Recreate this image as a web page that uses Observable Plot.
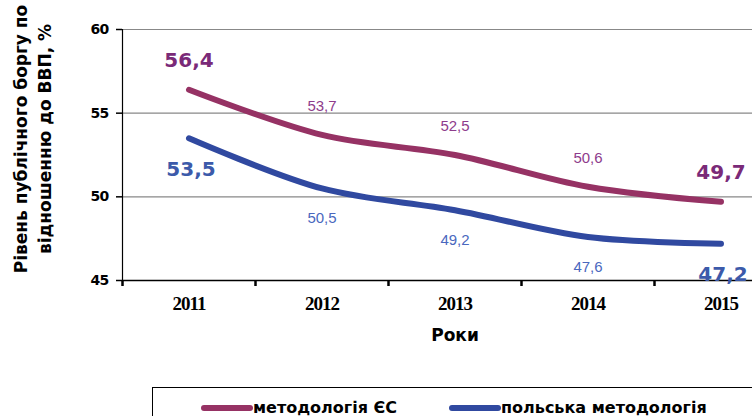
<!DOCTYPE html>
<html>
<head>
<meta charset="utf-8">
<script src="https://cdn.jsdelivr.net/npm/d3@7"></script>
<script src="https://cdn.jsdelivr.net/npm/@observablehq/plot@0.6"></script>
<style>
  html, body { margin: 0; padding: 0; background: #fff; overflow: hidden; }
  #wrap { position: relative; width: 752px; height: 416px; overflow: hidden; }
  #legend {
    position: absolute; left: 152px; top: 387px; width: 640px; height: 40px;
    border: 1.5px solid #000; border-right: none; box-sizing: border-box;
    font-family: "DejaVu Sans", sans-serif; font-weight: bold; font-size: 16px; color: #000;
  }
  .item { position: absolute; top: 10px; display: flex; align-items: center; white-space: nowrap; }
  .sw { display: inline-block; width: 52px; height: 6px; border-radius: 3px; }
  g[aria-label="y-axis tick label"] text { font-family: "DejaVu Sans", sans-serif; font-weight: bold; font-size: 14px; letter-spacing: -0.8px; }
  g[aria-label="x-axis tick label"] text { font-family: "Liberation Serif", serif; font-weight: bold; font-size: 19px; letter-spacing: -1px; }
</style>
</head>
<body>
<div id="wrap"></div>
<script>
const years = [2011, 2012, 2013, 2014, 2015];
const euValues = [56.4, 53.7, 52.5, 50.6, 49.7];
const plValues = [53.5, 50.5, 49.2, 47.6, 47.2];
const yTicks = [45, 50, 55, 60];
const gridValues = [50, 55, 60];
const seriesNames = ["методологія ЄС", "польська методологія"];
const yTitle = ["Рівень публічного боргу по", "відношенню до ВВП, %"];
const xTitle = "Роки";

const purple = "#963264", blue = "#3049A0";
const purpleBold = "#7A2A78", blueBold = "#3C5AAA";
const purpleText = "#8E3C8C", blueText = "#4A68BE";

const euData = years.map((year, i) => ({year, value: euValues[i], series: seriesNames[0]}));
const plData = years.map((year, i) => ({year, value: plValues[i], series: seriesNames[1]}));
const fmt = v => v.toFixed(1).replace(".", ",");
const isEnd = (d, i) => i === 0 || i === years.length - 1;
const isMid = (d, i) => !(i === 0 || i === years.length - 1);
const boundaries = years.map(y => y - 0.5);

const sans = "DejaVu Sans, sans-serif";

const chart = Plot.plot({
  width: 752,
  height: 378,
  marginTop: 29,
  marginBottom: 98,
  marginLeft: 122,
  marginRight: -35,
  style: {background: "#fff", overflow: "hidden", fontFamily: sans},
  x: {domain: [years[0] - 0.5, years[years.length - 1] + 0.5]},
  y: {domain: [45, 60]},
  marks: [
    Plot.ruleY(gridValues, {stroke: "#888", strokeWidth: 1.2}),
    Plot.axisX({ticks: boundaries, tickSize: 6, tickFormat: () => "", label: null, strokeWidth: 2.5, stroke: "#000"}),
    Plot.axisX({ticks: years, tickSize: 0, tickPadding: 16, tickFormat: d => String(d), label: null}),
    Plot.axisY({ticks: yTicks, tickSize: 6, tickPadding: 8, label: null, strokeWidth: 1.5}),
    Plot.ruleY([45], {stroke: "#000", strokeWidth: 1.6}),
    Plot.ruleX([years[0] - 0.5], {y1: 45, y2: 60, stroke: "#000", strokeWidth: 1.2}),
    Plot.line(euData, {x: "year", y: "value", stroke: purple, strokeWidth: 6, curve: "catmull-rom", strokeLinecap: "round"}),
    Plot.line(plData, {x: "year", y: "value", stroke: blue, strokeWidth: 6, curve: "catmull-rom", strokeLinecap: "round"}),
    Plot.text(euData, {filter: isEnd, x: "year", y: "value", text: d => fmt(d.value), dy: -29, fill: purpleBold, fontSize: 20, fontWeight: "bold", fontFamily: sans}),
    Plot.text(plData, {filter: isEnd, x: "year", y: "value", text: d => fmt(d.value), dy: 31, dx: 2, fill: blueBold, fontSize: 20, fontWeight: "bold", fontFamily: sans}),
    Plot.text(euData, {filter: isMid, x: "year", y: "value", text: d => fmt(d.value), dy: -29, fill: purpleText, fontSize: 15, fontFamily: "Liberation Sans, sans-serif"}),
    Plot.text(plData, {filter: isMid, x: "year", y: "value", text: d => fmt(d.value), dy: 30, fill: blueText, fontSize: 15, fontFamily: "Liberation Sans, sans-serif"}),
    Plot.text([yTitle[0]], {frameAnchor: "left", textAnchor: "middle", dx: -101, dy: -16, rotate: -90, fontSize: 17, fontWeight: "bold", fill: "#000", fontFamily: sans}),
    Plot.text([yTitle[1]], {frameAnchor: "left", textAnchor: "middle", dx: -77, dy: -16, rotate: -90, fontSize: 17, fontWeight: "bold", fill: "#000", fontFamily: sans}),
    Plot.text([xTitle], {frameAnchor: "bottom", dy: 60, fontSize: 17, fontWeight: "bold", fill: "#000", fontFamily: sans})
  ]
});

const wrap = document.getElementById("wrap");
wrap.appendChild(chart);

const legend = document.createElement("div");
legend.id = "legend";
const colors = [purple, blue];
const lefts = [48, 296];
seriesNames.forEach((name, i) => {
  const item = document.createElement("div");
  item.className = "item";
  item.style.left = lefts[i] + "px";
  const sw = document.createElement("span");
  sw.className = "sw";
  sw.style.background = colors[i];
  const label = document.createElement("span");
  label.textContent = name;
  item.appendChild(sw);
  item.appendChild(label);
  legend.appendChild(item);
});
wrap.appendChild(legend);
</script>
</body>
</html>
